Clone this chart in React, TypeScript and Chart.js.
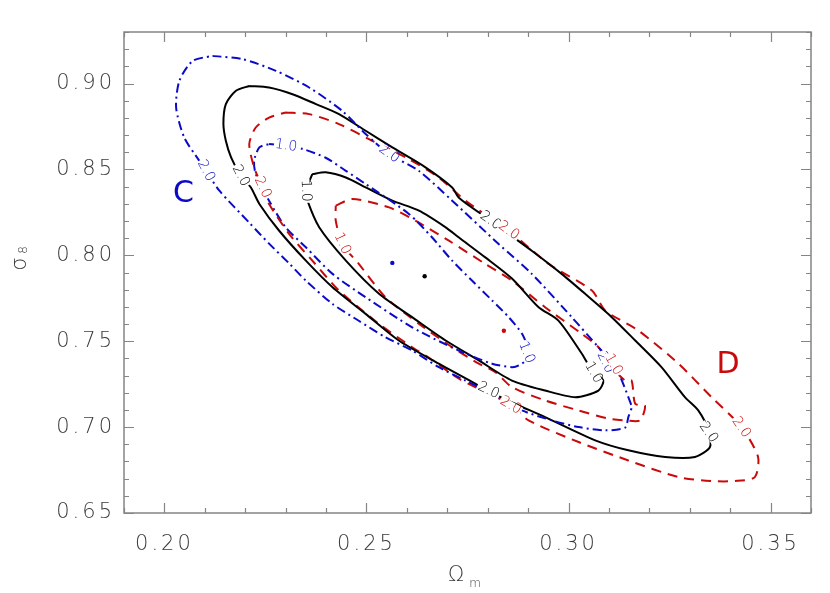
import React, { useEffect, useRef } from 'react';
import { Chart, registerables } from 'chart.js';

Chart.register(...registerables);

// ---- axes ----
const xMin = 0.19;
const xMax = 0.36;
const yMin = 0.65;
const yMax = 0.93;
const xTickValues = [0.2, 0.25, 0.3, 0.35];
const yTickValues = [0.65, 0.7, 0.75, 0.8, 0.85, 0.9];
const xMinorStep = 0.01;
const yMinorStep = 0.01;

// ---- contours (Omega_m, sigma_8) ----
// C : 2 sigma (blue, dash-dot)
const blue2X = [0.2119, 0.2193, 0.2276, 0.2358, 0.244, 0.2498, 0.2556, 0.263, 0.2712, 0.2827, 0.2909, 0.3008, 0.3074, 0.3099, 0.3128, 0.3148, 0.3156, 0.3148, 0.314, 0.3091, 0.3025, 0.2959, 0.2885, 0.2811, 0.2745, 0.2679, 0.2613, 0.2547, 0.2481, 0.2416, 0.235, 0.2309, 0.2259, 0.221, 0.2136, 0.2103, 0.2086, 0.2049, 0.2029, 0.2037, 0.207];
const blue2Y = [0.9161, 0.9142, 0.9074, 0.8977, 0.8841, 0.8706, 0.859, 0.8491, 0.8318, 0.8066, 0.7892, 0.764, 0.7465, 0.7399, 0.7291, 0.7174, 0.7116, 0.7058, 0.6997, 0.6981, 0.7, 0.7039, 0.7097, 0.7194, 0.7271, 0.7349, 0.7446, 0.7523, 0.7619, 0.7717, 0.7853, 0.7952, 0.8068, 0.819, 0.8376, 0.8492, 0.8551, 0.8686, 0.886, 0.9016, 0.9132];
// C : 1 sigma (blue, dash-dot)
const blue1X = [0.2259, 0.23, 0.2341, 0.2399, 0.2449, 0.2498, 0.2605, 0.2662, 0.2712, 0.2761, 0.2811, 0.2852, 0.2885, 0.2901, 0.2894, 0.2877, 0.286, 0.2811, 0.2728, 0.2613, 0.2498, 0.2416, 0.235, 0.23, 0.2259, 0.2226, 0.2222, 0.2235];
const blue1Y = [0.8648, 0.8638, 0.862, 0.8568, 0.8492, 0.8415, 0.8241, 0.8105, 0.7969, 0.7853, 0.7737, 0.764, 0.7543, 0.7446, 0.7388, 0.7359, 0.7349, 0.7369, 0.7446, 0.7581, 0.7756, 0.7892, 0.8047, 0.8163, 0.8318, 0.8473, 0.8551, 0.8628];
// reference : 2 sigma (black, solid)
const black2X = [0.221, 0.2259, 0.2317, 0.2375, 0.2432, 0.2498, 0.2564, 0.2646, 0.2712, 0.2728, 0.2807, 0.2909, 0.2983, 0.3041, 0.3107, 0.3165, 0.323, 0.3288, 0.3321, 0.3346, 0.335, 0.3313, 0.3239, 0.3148, 0.3066, 0.2942, 0.284, 0.277, 0.2679, 0.258, 0.2498, 0.2416, 0.235, 0.2284, 0.2235, 0.2214, 0.2189, 0.2165, 0.2152, 0.2146, 0.2152, 0.2177];
const black2Y = [0.8986, 0.8977, 0.8938, 0.888, 0.8822, 0.8725, 0.8628, 0.8512, 0.8395, 0.8337, 0.8202, 0.8027, 0.7892, 0.7776, 0.764, 0.7504, 0.7349, 0.7174, 0.7097, 0.6981, 0.6884, 0.6826, 0.6826, 0.6865, 0.6923, 0.7058, 0.7165, 0.7252, 0.7369, 0.7504, 0.7659, 0.7814, 0.7969, 0.8143, 0.8299, 0.8395, 0.8463, 0.857, 0.8667, 0.8764, 0.888, 0.8958];
// reference : 1 sigma (black, solid)
const black1X = [0.2366, 0.2399, 0.2449, 0.2498, 0.2564, 0.263, 0.2696, 0.2728, 0.2794, 0.286, 0.2926, 0.2975, 0.3033, 0.3058, 0.3086, 0.3074, 0.3017, 0.2942, 0.286, 0.2778, 0.2696, 0.2613, 0.2531, 0.2449, 0.2383, 0.2354, 0.235];
const black1Y = [0.8473, 0.8483, 0.8453, 0.8395, 0.8318, 0.826, 0.8163, 0.8105, 0.7988, 0.7865, 0.7698, 0.762, 0.7427, 0.733, 0.7271, 0.7213, 0.7174, 0.7213, 0.7271, 0.7388, 0.7504, 0.764, 0.7776, 0.7969, 0.8163, 0.8318, 0.8376];
// D : 2 sigma (red, dashed)
const red2X = [0.23, 0.2358, 0.2432, 0.2514, 0.2597, 0.2679, 0.2745, 0.2852, 0.2951, 0.3058, 0.3091, 0.3173, 0.3272, 0.3354, 0.3428, 0.3469, 0.3461, 0.3412, 0.3354, 0.3272, 0.3148, 0.3025, 0.2901, 0.286, 0.2802, 0.2728, 0.2654, 0.2613, 0.2531, 0.2432, 0.2366, 0.2309, 0.2259, 0.2243, 0.2222, 0.221, 0.2226, 0.2259];
const red2Y = [0.8831, 0.8822, 0.8764, 0.8667, 0.857, 0.8453, 0.8318, 0.8143, 0.795, 0.7795, 0.7678, 0.7562, 0.7369, 0.7174, 0.7, 0.6826, 0.6709, 0.6686, 0.6686, 0.6709, 0.6806, 0.6913, 0.7039, 0.7126, 0.7196, 0.7283, 0.7405, 0.7465, 0.7601, 0.7795, 0.7969, 0.8124, 0.8299, 0.8395, 0.8512, 0.8648, 0.8744, 0.8802];
// D : 1 sigma (red, dashed)
const red1X = [0.2424, 0.2465, 0.2556, 0.2621, 0.2704, 0.2794, 0.286, 0.2942, 0.3033, 0.3074, 0.3107, 0.314, 0.3156, 0.3165, 0.3189, 0.3177, 0.314, 0.3099, 0.3025, 0.2942, 0.286, 0.2819, 0.2778, 0.2712, 0.263, 0.2547, 0.2481, 0.244, 0.2424];
const red1Y = [0.8289, 0.8328, 0.8279, 0.8202, 0.8085, 0.795, 0.7853, 0.7698, 0.7543, 0.7465, 0.7349, 0.7271, 0.7271, 0.7136, 0.7126, 0.7039, 0.7039, 0.7049, 0.7097, 0.7155, 0.7233, 0.732, 0.7369, 0.7465, 0.7601, 0.7756, 0.795, 0.8066, 0.8202];

// best-fit points
const blueBest = { x: 0.2564, y: 0.7956 };
const blackBest = { x: 0.2644, y: 0.7878 };
const redBest = { x: 0.284, y: 0.7561 };

// contour level labels
const blueLabels = [
  { x: 0.2103, y: 0.8492, text: '2.0', angle: 62 },
  { x: 0.2301, y: 0.8638, text: '1.0', angle: 8 },
  { x: 0.2556, y: 0.8591, text: '2.0', angle: 35 },
  { x: 0.2896, y: 0.7434, text: '1.0', angle: 68 },
  { x: 0.3091, y: 0.7376, text: '2.0', angle: 65 },
];
const blackLabels = [
  { x: 0.2189, y: 0.8463, text: '2.0', angle: 62 },
  { x: 0.235, y: 0.8376, text: '1.0', angle: 88 },
  { x: 0.2807, y: 0.8202, text: '2.0', angle: 35 },
  { x: 0.2802, y: 0.7213, text: '2.0', angle: 25 },
  { x: 0.3062, y: 0.7318, text: '1.0', angle: 60 },
  { x: 0.3346, y: 0.6969, text: '2.0', angle: 55 },
];
const redLabels = [
  { x: 0.2243, y: 0.8395, text: '2.0', angle: 65 },
  { x: 0.244, y: 0.8068, text: '1.0', angle: 65 },
  { x: 0.2852, y: 0.8143, text: '2.0', angle: 35 },
  { x: 0.2857, y: 0.7126, text: '2.0', angle: 30 },
  { x: 0.3111, y: 0.7364, text: '1.0', angle: 60 },
  { x: 0.3427, y: 0.6998, text: '2.0', angle: 55 },
];

// sample names
const sampleNames = [
  { x: 0.2047, y: 0.8358, text: 'C', series: 'blue' },
  { x: 0.3395, y: 0.7359, text: 'D', series: 'red' },
];

const BLUE = 'rgb(10,10,200)';
const RED = 'rgb(200,10,10)';
const BLACK = '#000000';
const FRAME = '#858585';
const TEXT = '#3a3a3a';
const FONT = '"DejaVu Sans", sans-serif';

function loop(xs: number[], ys: number[]) {
  const pts = xs.map((x, i) => ({ x, y: ys[i] }));
  pts.push({ x: xs[0], y: ys[0] });
  return pts;
}

function contour(xs: number[], ys: number[], color: string, dash: number[]) {
  return {
    type: 'scatter' as const,
    data: loop(xs, ys),
    showLine: true,
    borderColor: color,
    borderWidth: 2,
    borderDash: dash,
    pointRadius: 0,
    tension: 0.25,
    fill: false,
  };
}

function dot(p: { x: number; y: number }, color: string) {
  return {
    type: 'scatter' as const,
    data: [p],
    pointRadius: 2.2,
    pointBackgroundColor: color,
    pointBorderWidth: 0,
    showLine: false,
  };
}

const overlayPlugin = {
  id: 'overlay',
  beforeDraw(chart: any) {
    chart.ctx.letterSpacing = '3px';
  },
  beforeDatasetsDraw(chart: any) {
    chart.ctx.letterSpacing = '0px';
  },
  afterDatasetsDraw(chart: any) {
    const ctx = chart.ctx as CanvasRenderingContext2D;
    const xs = chart.scales.x;
    const ys = chart.scales.y;
    const groups: [typeof blueLabels, string][] = [
      [blueLabels, BLUE],
      [blackLabels, BLACK],
      [redLabels, RED],
    ];
    ctx.save();
    ctx.font = `300 14px ${FONT}`;
    ctx.textAlign = 'center';
    ctx.textBaseline = 'middle';
    for (const [labels, color] of groups) {
      for (const lab of labels) {
        const px = xs.getPixelForValue(lab.x);
        const py = ys.getPixelForValue(lab.y);
        ctx.setTransform(1, 0, 0, 1, px, py);
        ctx.rotate((lab.angle * Math.PI) / 180);
        const w = ctx.measureText(lab.text).width;
        ctx.fillStyle = '#ffffff';
        ctx.fillRect(-w / 2 - 1, -4, w + 2, 8);
        ctx.fillStyle = color;
        ctx.fillText(lab.text, 0, 0);
      }
    }
    ctx.setTransform(1, 0, 0, 1, 0, 0);
    ctx.font = `400 30px ${FONT}`;
    for (const s of sampleNames) {
      ctx.fillStyle = s.series === 'blue' ? BLUE : RED;
      ctx.fillText(s.text, xs.getPixelForValue(s.x), ys.getPixelForValue(s.y));
    }
    ctx.restore();
  },
  afterDraw(chart: any) {
    const ctx = chart.ctx as CanvasRenderingContext2D;
    const { left, right, top, bottom } = chart.chartArea;
    const xs = chart.scales.x;
    const ys = chart.scales.y;
    ctx.save();
    ctx.strokeStyle = FRAME;
    ctx.lineWidth = 1.5;
    ctx.strokeRect(left, top, right - left, bottom - top);
    ctx.lineWidth = 1.2;
    ctx.beginPath();
    const nX = Math.round((xMax - xMin) / xMinorStep);
    for (let i = 0; i <= nX; i++) {
      const v = xMin + i * xMinorStep;
      const major = xTickValues.some((t) => Math.abs(t - v) < 1e-6);
      const len = major ? 10 : 5;
      const px = Math.round(xs.getPixelForValue(v)) + 0.5;
      ctx.moveTo(px, bottom);
      ctx.lineTo(px, bottom - len);
      ctx.moveTo(px, top);
      ctx.lineTo(px, top + len);
    }
    const nY = Math.round((yMax - yMin) / yMinorStep);
    for (let i = 0; i <= nY; i++) {
      const v = yMin + i * yMinorStep;
      const major = yTickValues.some((t) => Math.abs(t - v) < 1e-6);
      const len = major ? 10 : 5;
      const py = Math.round(ys.getPixelForValue(v)) + 0.5;
      ctx.moveTo(left, py);
      ctx.lineTo(left + len, py);
      ctx.moveTo(right, py);
      ctx.lineTo(right - len, py);
    }
    ctx.stroke();

    // axis titles
    ctx.fillStyle = TEXT;
    ctx.textAlign = 'center';
    ctx.textBaseline = 'middle';
    ctx.font = `300 21px ${FONT}`;
    ctx.fillText('\u03A9', 456, 576);
    ctx.font = `300 12px ${FONT}`;
    ctx.fillText('m', 475, 584);
    ctx.translate(21, 264);
    ctx.rotate(-Math.PI / 2);
    ctx.font = `300 21px ${FONT}`;
    ctx.fillText('\u03C3', 0, 0);
    ctx.font = `300 12px ${FONT}`;
    ctx.fillText('8', 14, 3);
    ctx.restore();
  },
};

export default function App() {
  const canvasRef = useRef<HTMLCanvasElement | null>(null);

  useEffect(() => {
    document.body.style.margin = '0';
    const canvas = canvasRef.current;
    if (!canvas) return;
    const chart = new Chart(canvas, {
      type: 'scatter',
      data: {
        datasets: [
          contour(blue2X, blue2Y, BLUE, [9, 4, 2, 4]),
          contour(black2X, black2Y, BLACK, []),
          contour(red2X, red2Y, RED, [10, 7]),
          contour(blue1X, blue1Y, BLUE, [9, 4, 2, 4]),
          contour(black1X, black1Y, BLACK, []),
          contour(red1X, red1Y, RED, [10, 7]),
          dot(blueBest, BLUE),
          dot(blackBest, BLACK),
          dot(redBest, RED),
        ] as any,
      },
      options: {
        animation: false,
        responsive: false,
        devicePixelRatio: 1,
        layout: { padding: { top: 32, right: 19, left: 0, bottom: 0 } },
        plugins: { legend: { display: false }, tooltip: { enabled: false } },
        scales: {
          x: {
            type: 'linear',
            min: xMin,
            max: xMax,
            afterBuildTicks: (scale: any) => {
              scale.ticks = xTickValues.map((v) => ({ value: v }));
            },
            afterFit: (scale: any) => {
              scale.height = 80;
            },
            grid: { display: false, drawTicks: false },
            border: { display: false },
            ticks: {
              padding: 19,
              color: TEXT,
              font: { family: FONT, size: 21, weight: '300' as any },
              callback: (v: any) => Number(v).toFixed(2),
            },
          },
          y: {
            type: 'linear',
            min: yMin,
            max: yMax,
            afterBuildTicks: (scale: any) => {
              scale.ticks = yTickValues.map((v) => ({ value: v }));
            },
            afterFit: (scale: any) => {
              scale.width = 124;
            },
            grid: { display: false, drawTicks: false },
            border: { display: false },
            ticks: {
              padding: 9,
              color: TEXT,
              font: { family: FONT, size: 21, weight: '300' as any },
              callback: (v: any) => Number(v).toFixed(2),
            },
          },
        },
      },
      plugins: [overlayPlugin],
    });
    return () => chart.destroy();
  }, []);

  return (
    <div style={{ width: 830, height: 593 }}>
      <canvas ref={canvasRef} width={830} height={593} />
    </div>
  );
}
